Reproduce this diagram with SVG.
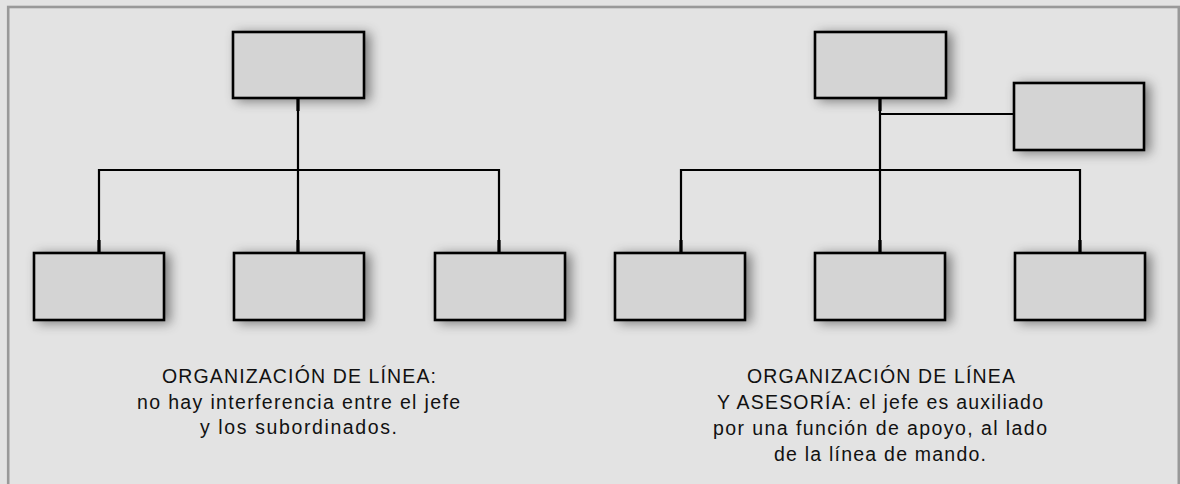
<svg xmlns="http://www.w3.org/2000/svg" width="1180" height="484" viewBox="0 0 1180 484">
<defs>
<filter id="sh" x="-25%" y="-40%" width="160%" height="190%">
<feDropShadow dx="5" dy="2" stdDeviation="6" flood-color="#000" flood-opacity="0.45"/>
</filter>
<style>
.box{fill:#d4d4d4;stroke:#000;stroke-width:2.6;filter:url(#sh)}
.ln{fill:none;stroke:#000;stroke-width:2.2}
.stub{fill:none;stroke:#000;stroke-width:3.2}
.t{font-family:"Liberation Sans",Arial,sans-serif;font-size:19.5px;fill:#111;text-anchor:middle}
</style>
</defs>
<rect x="0" y="0" width="1180" height="484" fill="#e3e3e3"/>
<rect x="8.2" y="7" width="1170.6" height="500" fill="none" stroke="#999" stroke-width="2.6"/>
<g id="connectors">
<path class="ln" d="M298 98V170M99 253V170H499V253M298 170V253"/>
<path class="stub" d="M298 98v13M99 253v-13M298 253v-13M499 253v-13"/>
<path class="ln" d="M880 98V253M880 114H1014M681 253V170H1080V253"/>
<path class="stub" d="M880 98v13M681 253v-13M880 253v-13M1080 253v-13"/>
</g>
<g id="n-top-left"><rect class="box" x="233" y="32" width="131" height="66"/></g>
<g id="n-bl1"><rect class="box" x="34" y="253" width="130" height="67"/></g>
<g id="n-bl2"><rect class="box" x="234" y="253" width="130" height="67"/></g>
<g id="n-bl3"><rect class="box" x="435" y="253" width="130" height="67"/></g>
<g id="n-top-right"><rect class="box" x="815" y="32" width="131" height="66"/></g>
<g id="n-staff"><rect class="box" x="1014" y="83" width="130" height="67"/></g>
<g id="n-br1"><rect class="box" x="615" y="253" width="130" height="67"/></g>
<g id="n-br2"><rect class="box" x="815" y="253" width="130" height="67"/></g>
<g id="n-br3"><rect class="box" x="1015" y="253" width="130" height="67"/></g>
<g id="caption-left">
<text class="t" x="299" y="383" textLength="274" lengthAdjust="spacing">ORGANIZACIÓN DE LÍNEA:</text>
<text class="t" x="298.5" y="408.5" textLength="323" lengthAdjust="spacing">no hay interferencia entre el jefe</text>
<text class="t" x="298.5" y="434" textLength="197" lengthAdjust="spacing">y los subordinados.</text>
</g>
<g id="caption-right">
<text class="t" x="881" y="383" textLength="268" lengthAdjust="spacing">ORGANIZACIÓN DE LÍNEA</text>
<text class="t" x="880" y="409" textLength="326" lengthAdjust="spacing">Y ASESORÍA: el jefe es auxiliado</text>
<text class="t" x="880" y="435" textLength="334" lengthAdjust="spacing">por una función de apoyo, al lado</text>
<text class="t" x="880" y="460.5" textLength="212" lengthAdjust="spacing">de la línea de mando.</text>
</g>
</svg>
